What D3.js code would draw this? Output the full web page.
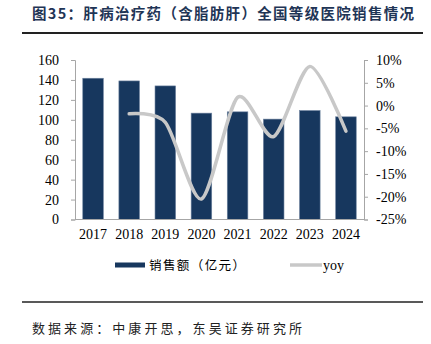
<!DOCTYPE html>
<html><head><meta charset="utf-8">
<script src="https://cdn.jsdelivr.net/npm/d3@7"></script>
<style>body{margin:0;background:#fff}svg{display:block}</style>
</head><body>
<svg id="c" width="431" height="344"></svg>
<script>
const years = ["2017","2018","2019","2020","2021","2022","2023","2024"];
const sales = [141.7, 139, 134, 106.7, 108, 100.7, 109.3, 103];
const yoy = [null, -1.8, -3.7, -20.5, 1.8, -6.8, 8.6, -5.6];
const leftTicks = [0,20,40,60,80,100,120,140,160];
const rightTicks = [-25,-20,-15,-10,-5,0,5,10];
const title = "图35：肝病治疗药（含脂肪肝）全国等级医院销售情况";
const source = "数据来源：中康开思，东吴证券研究所";
const legendNames = ["销售额（亿元）","yoy"];

const svg = d3.select("#c");
const L = 75, R = 364, T = 60, B = 219.5;
const x = d3.scaleBand().domain(years).range([L, R]).paddingInner(0.43).paddingOuter(0.215);
const yL = d3.scaleLinear().domain([0,160]).range([B, T]);
const yR = d3.scaleLinear().domain([-25,10]).range([B, T]);
const serif = "'Liberation Serif','Times New Roman',serif";
const cjk = "'Noto Sans CJK SC','Noto Sans',sans-serif";

// title
svg.append("text").attr("x",32).attr("y",19).attr("font-family",cjk).attr("font-weight","bold")
  .attr("font-size",14.5).attr("fill","#1f3556").attr("textLength",382).attr("lengthAdjust","spacing").text(title);
svg.append("line").attr("x1",22).attr("x2",423).attr("y1",33).attr("y2",33).attr("stroke","#222").attr("stroke-width",2);

// bars
svg.append("g").selectAll("rect").data(years).join("rect")
  .attr("x",d=>x(d)).attr("width",x.bandwidth())
  .attr("y",(d,i)=>yL(sales[i])).attr("height",(d,i)=>B-yL(sales[i]))
  .attr("fill","#17375e").attr("stroke","#6f84a0").attr("stroke-width",0.6);

// axes
const axL = svg.append("g").attr("transform",`translate(${L},0)`)
  .call(d3.axisLeft(yL).tickValues(leftTicks).tickSize(4).tickPadding(12));
const axR = svg.append("g").attr("transform",`translate(${R},0)`)
  .call(d3.axisRight(yR).tickValues(rightTicks).tickSize(4).tickPadding(8).tickFormat(d=>d+"%"));
const axB = svg.append("g").attr("transform",`translate(0,${B})`)
  .call(d3.axisBottom(x).tickSize(0).tickPadding(10));
[axL,axR,axB].forEach(a=>{
  a.selectAll("path,line").attr("stroke","#a6a6a6");
  a.selectAll("text").attr("font-family",serif).attr("font-size",14).attr("fill","#000");
});
axB.select("path").attr("d",`M${L},0H${R}`);

// yoy line
const pts = years.map((d,i)=>[x(d)+x.bandwidth()/2, yoy[i]]).filter(p=>p[1]!==null);
svg.append("path").datum(pts)
  .attr("d", d3.line().x(p=>p[0]).y(p=>yR(p[1])).curve(d3.curveCardinal.tension(0.2)))
  .attr("fill","none").attr("stroke","#c8c8c8").attr("stroke-width",3.5).attr("stroke-linecap","round");

// legend
svg.append("rect").attr("x",115).attr("y",262.5).attr("width",30).attr("height",5).attr("fill","#17375e");
svg.append("text").attr("x",149).attr("y",270).attr("font-family",cjk).attr("font-size",12.5)
  .attr("textLength",96).attr("lengthAdjust","spacing").text(legendNames[0]);
svg.append("line").attr("x1",290).attr("x2",322).attr("y1",265).attr("y2",265).attr("stroke","#c8c8c8").attr("stroke-width",3.5);
svg.append("text").attr("x",323).attr("y",269.5).attr("font-family",serif).attr("font-size",14).text(legendNames[1]);

// source
svg.append("line").attr("x1",22).attr("x2",423).attr("y1",302).attr("y2",302).attr("stroke","#222").attr("stroke-width",1.5);
svg.append("text").attr("x",32).attr("y",333).attr("font-family",cjk).attr("font-size",13)
  .attr("fill","#222").attr("textLength",270).attr("lengthAdjust","spacing").text(source);
</script>
</body></html>
